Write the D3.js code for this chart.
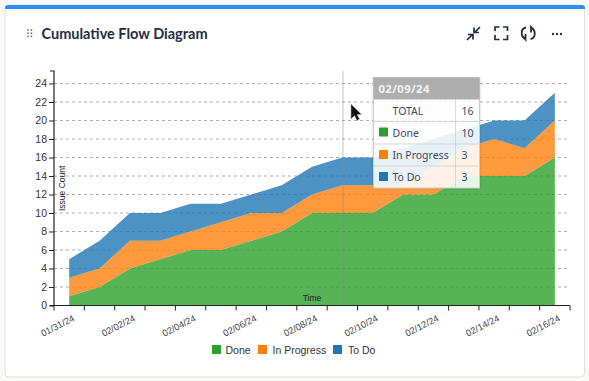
<!DOCTYPE html>
<html><head><meta charset="utf-8">
<script src="https://cdn.jsdelivr.net/npm/d3@7/dist/d3.min.js"></script>
<style>html,body{margin:0;padding:0;background:#f9f9f8;overflow:hidden}svg{display:block}</style>
</head><body><svg id="c" width="589" height="381"></svg>
<script>
const dates=["01/31/24","02/01/24","02/02/24","02/03/24","02/04/24","02/05/24","02/06/24","02/07/24","02/08/24","02/09/24","02/10/24","02/11/24","02/12/24","02/13/24","02/14/24","02/15/24","02/16/24"];
const done=[1,2,4,5,6,6,7,8,10,10,10,12,12,14,14,14,16];
const inProgress=[2,2,3,2,2,3,3,2,2,3,3,1,3,3,4,3,4];
const toDo=[2,3,3,3,3,2,2,3,3,3,3,4,3,2,2,3,3];
const seriesNames=["Done","In Progress","To Do"];
const seriesColors=["#2ca02c","#ff7f0e","#1f77b4"];
const yTicks=[0,2,4,6,8,10,12,14,16,18,20,22,24];
const tooltipRows=[["TOTAL",16,null],["Done",10,"#2ca02c"],["In Progress",3,"#ff7f0e"],["To Do",3,"#1f77b4"]];
const hoverDate="02/09/24";

const svg=d3.select("#c");
const axisFont="'Liberation Sans',Arial,sans-serif", uiFont="'Noto Sans','Open Sans',sans-serif";
svg.append("rect").attr("x",5).attr("y",5).attr("width",579.5).attr("height",372).attr("rx",4).attr("fill","#fff").attr("stroke","#e0e0e0");
svg.append("path").attr("d","M5 9V8a3 3 0 0 1 3-3H582a3 3 0 0 1 3 3V9Z").attr("fill","#2d8cf5");
const grip=svg.append("g").attr("fill","#6b7280");
[27.2,30.6].forEach(x=>[29.2,32.4,35.6].forEach(y=>grip.append("rect").attr("x",x).attr("y",y).attr("width",1.6).attr("height",1.6)));
svg.append("text").attr("x",41.5).attr("y",39).attr("font-family","Lato,'Noto Sans',sans-serif").attr("font-weight",700).attr("font-size",14.5).attr("fill","#1f2d45").text("Cumulative Flow Diagram");
const ic=svg.append("g").attr("fill","none").attr("stroke","#1f2d45").attr("stroke-width",1.7);
ic.append("path").attr("d","M467 40L473 34M468 34.5H473V39.5M480 27L474 33M479 32.5H474V27.5");
ic.append("path").attr("d","M495 31V27H499.5M503 27H507.5V31M507.5 35V39.5H503M499.5 39.5H495V35");
ic.append("path").attr("d","M526 27.5C520.5 28.5 520.5 36 525 39M522 35.5L525.5 39.5V34M530.5 39C536 38 536 30.5 531.5 27.5M534.5 31L531 27V32.5").attr("stroke-width",1.8);
ic.append("g").attr("fill","#1f2d45").attr("stroke","none").selectAll("circle").data([553,557,561]).join("circle").attr("cx",d=>d).attr("cy",34).attr("r",1.2);

const x=d3.scaleBand().domain(dates).range([54,570]);
const y=d3.scaleLinear().domain([0,24]).range([305.5,83.5]);
const yTop=71;
const cx=d=>x(d)+x.bandwidth()/2;
const grid=svg.append("g");
yTicks.filter(d=>d>0).forEach(t=>grid.append("line").attr("x1",54).attr("x2",570).attr("y1",y(t)).attr("y2",y(t)).attr("stroke","#999").attr("stroke-width",0.8).attr("stroke-dasharray","3,3"));
const rows=dates.map((d,i)=>({date:d,a:done[i],b:inProgress[i],c:toDo[i]}));
const stack=d3.stack().keys(["a","b","c"])(rows);
const area=d3.area().x(d=>cx(d.data.date)).y0(d=>y(d[0])).y1(d=>y(d[1]));
svg.append("g").selectAll("path").data(stack).join("path").attr("d",area).attr("fill",(d,i)=>seriesColors[i]).attr("fill-opacity",0.8);
const gx=svg.append("g").attr("transform","translate(0,305.5)").attr("font-family",axisFont);
gx.append("line").attr("x1",54).attr("x2",570).attr("stroke","#222").attr("stroke-width",1);
d3.range(dates.length+1).forEach(i=>{const tx=54+i*x.bandwidth();gx.append("line").attr("x1",tx).attr("x2",tx).attr("y1",0).attr("y2",5).attr("stroke","#222");});
dates.forEach((d,i)=>{if(i%2==0)gx.append("text").attr("transform",`translate(${cx(d)+3},9) rotate(-27)`).attr("text-anchor","end").attr("dy","0.71em").attr("font-size",9.3).attr("fill","#444").text(d);});
const gy=svg.append("g").attr("transform","translate(54,0)").call(d3.axisLeft(y).tickValues(yTicks).tickSize(5).tickFormat(d3.format("d")));
gy.attr("font-family",axisFont).attr("font-size",10.5);
gy.selectAll("text").attr("fill","#333").attr("x",-7);
gy.selectAll("line").attr("stroke","#222");
gy.select(".domain").attr("stroke","#222").attr("stroke-width",1.2).attr("d",`M-4,${yTop}H0V${y(0)}H-4`);
svg.append("text").attr("transform","translate(65,211) rotate(-90)").attr("font-family",axisFont).attr("font-size",8.5).attr("fill","#222").text("Issue Count");
svg.append("text").attr("x",312).attr("y",301).attr("text-anchor","middle").attr("font-family",axisFont).attr("font-size",8.5).attr("fill","#222").text("Time");
svg.append("line").attr("x1",343).attr("x2",343).attr("y1",yTop).attr("y2",305).attr("stroke","#888").attr("stroke-opacity",0.5);
const lg=svg.append("g");
const lx=[212,258,333], tx=[225.5,272.5,348];
seriesNames.forEach((n,i)=>{lg.append("rect").attr("x",lx[i]).attr("y",345).attr("width",9).attr("height",9).attr("fill",seriesColors[i]);
 lg.append("text").attr("x",tx[i]).attr("y",354).attr("font-family",axisFont).attr("font-size",10.5).attr("fill","#333").text(n);});
const tt=svg.append("g");
const tX=373.5,tY=77.5,tW=106,hH=22,rowH=[22,22.5,22,22];
tt.append("rect").attr("x",tX-2).attr("y",tY-1).attr("width",tW+4).attr("height",113).attr("fill","#000").attr("opacity",0.06).attr("rx",3);
tt.append("rect").attr("x",tX).attr("y",tY).attr("width",tW).attr("height",110.5).attr("fill","#fff").attr("fill-opacity",0.88).attr("stroke","#ccc");
tt.append("rect").attr("x",tX).attr("y",tY).attr("width",tW).attr("height",hH).attr("fill","#aeaeae");
tt.append("text").attr("x",tX+5).attr("y",tY+15.5).attr("font-family",uiFont).attr("font-weight",700).attr("font-size",11.3).attr("fill","#f2f2f2").attr("letter-spacing",0.4).text(hoverDate);
let ry=tY+hH;
tooltipRows.forEach((r,i)=>{
 if(i>0)tt.append("line").attr("x1",tX).attr("x2",tX+tW).attr("y1",ry).attr("y2",ry).attr("stroke","#d5d5d5");
 if(r[2])tt.append("rect").attr("x",tX+5.5).attr("y",ry+6).attr("width",9).attr("height",9).attr("fill",r[2]);
 tt.append("text").attr("x",tX+19).attr("y",ry+15).attr("font-family",uiFont).attr("font-size",10.5).attr("fill","#3b4a66").text(r[0]);
 tt.append("text").attr("x",tX+88).attr("y",ry+15).attr("font-family",uiFont).attr("font-size",10.5).attr("fill","#3b4a66").text(r[1]);
 ry+=rowH[i];
});
tt.append("line").attr("x1",tX+82).attr("x2",tX+82).attr("y1",tY+hH).attr("y2",tY+110).attr("stroke","#bbb").attr("stroke-dasharray","1,1");
svg.append("path").attr("d","M351 104V119L354.5 115.5L357 120.5L359.5 119L357 114.5H361.5Z").attr("fill","#111").attr("stroke","#aaa").attr("stroke-width",0.6);
</script></body></html>
